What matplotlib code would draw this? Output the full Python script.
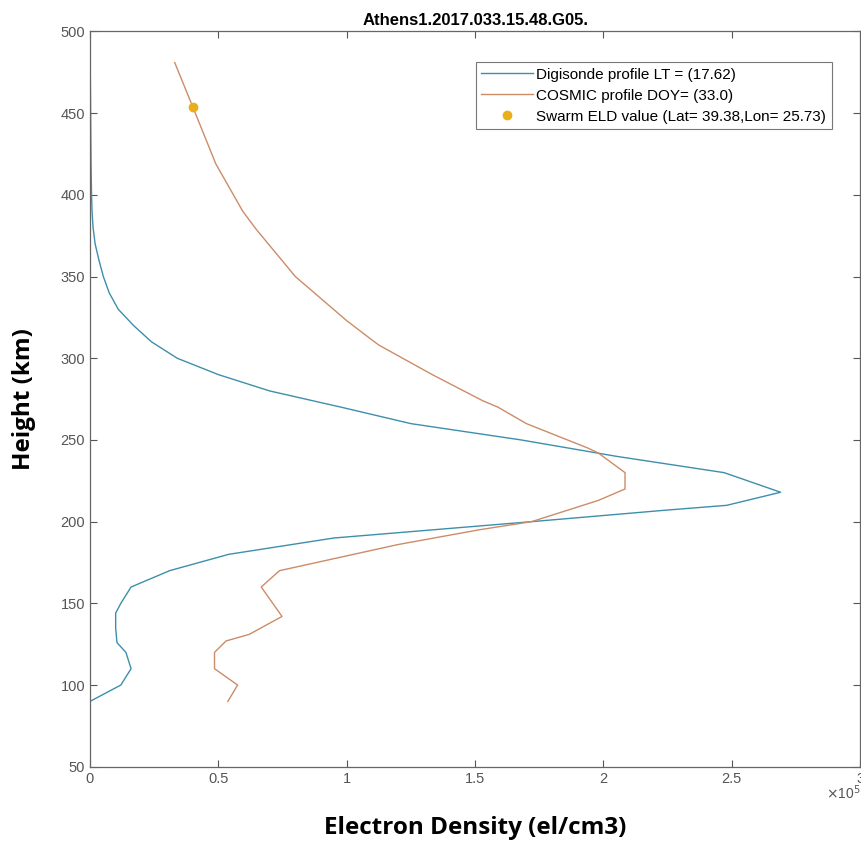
"""Digisonde vs COSMIC electron density profile, Athens 2017-033."""

import matplotlib
matplotlib.use("Agg")
import matplotlib.pyplot as plt
from matplotlib.ticker import FuncFormatter

# ---------------------------------------------------------------------------
# Data (density in units of 1e5 el/cm3)
# ---------------------------------------------------------------------------
digi_height = [90, 100, 110, 120, 126, 135, 144, 150, 160, 170, 180, 190, 200,
               207, 210, 218, 230, 240, 250, 260, 270, 280, 290, 300, 310,
               320, 330, 340, 350, 360, 370, 380, 390, 400, 420, 440, 460, 480]
digi_dens = [0.0, 0.12, 0.16, 0.14, 0.105, 0.10, 0.10, 0.12, 0.16, 0.31, 0.54,
             0.95, 1.72, 2.24, 2.48, 2.69, 2.47, 2.05, 1.68, 1.25, 0.98, 0.70,
             0.50, 0.34, 0.24, 0.17, 0.11, 0.075, 0.052, 0.035, 0.02, 0.012,
             0.008, 0.006, 0.004, 0.003, 0.002, 0.001]

cosmic_height = [90, 100, 110, 120, 127, 131, 142, 160, 170, 186, 195, 200, 213,
                 220, 230, 242, 245, 260, 270, 274, 290, 308, 311, 323, 350,
                 379, 390, 419, 454, 481]
cosmic_dens = [0.537, 0.575, 0.485, 0.485, 0.53, 0.62, 0.748, 0.667, 0.738,
               1.20, 1.515, 1.72, 1.98, 2.084, 2.084, 1.98, 1.94, 1.70, 1.59,
               1.53, 1.333, 1.126, 1.10, 1.0, 0.80, 0.647, 0.595, 0.49, 0.40,
               0.33]

swarm_height = [454]
swarm_dens = [0.40]

SCALE = 1e5

# ---------------------------------------------------------------------------
# Style
# ---------------------------------------------------------------------------
_BLUE = "#3d8fab"
_ORANGE = "#cc8c68"
_GOLD = "#E8AE1E"
_GRAY = "#555555"
_TICK_FONT = ["Liberation Sans", "DejaVu Sans"]
_LABEL_FONT = ["Open Sans", "DejaVu Sans"]


def main() -> None:
    fig = plt.figure(figsize=(8.62, 8.51), dpi=100)
    ax = fig.add_axes([0.1044, 0.099, 0.8935, 0.864])

    ax.plot([d * SCALE for d in digi_dens], digi_height, color=_BLUE, lw=1.0,
            label="Digisonde profile LT = (17.62)")
    ax.plot([d * SCALE for d in cosmic_dens], cosmic_height, color=_ORANGE, lw=1.0,
            label="COSMIC profile DOY= (33.0)")
    ax.plot([d * SCALE for d in swarm_dens], swarm_height, "o", color=_GOLD,
            ms=6, ls="none", label="Swarm ELD value (Lat= 39.38,Lon= 25.73)")

    ax.set_xlim(0, 3e5)
    ax.set_ylim(50, 500)
    ax.set_xticks([0, 0.5e5, 1e5, 1.5e5, 2e5, 2.5e5, 3e5])
    ax.set_yticks(range(50, 501, 50))
    ax.xaxis.set_major_formatter(FuncFormatter(lambda v, _: f"{v / SCALE:g}"))

    ax.tick_params(direction="in", top=True, right=True, length=5,
                   colors=_GRAY, labelsize=10.5, width=0.8)
    for lab in ax.get_xticklabels() + ax.get_yticklabels():
        lab.set_family(_TICK_FONT)
    for sp in ax.spines.values():
        sp.set_color("#666666")
        sp.set_linewidth(0.9)

    # MATLAB-style exponent under the right end of the x axis
    ax.text(1.0, -0.022, r"$\times$10$^5$", transform=ax.transAxes,
            ha="right", va="top", fontsize=10, color=_GRAY, family=_TICK_FONT)

    ax.set_title("Athens1.2017.033.15.48.G05.", fontsize=12, fontweight="bold",
                 family=_TICK_FONT, pad=5)
    ax.set_xlabel("Electron Density (el/cm3)", fontsize=17.5, fontweight="bold",
                  family=_LABEL_FONT, labelpad=22)
    ax.set_ylabel("Height (km)", fontsize=17.5, fontweight="bold",
                  family=_LABEL_FONT, labelpad=18)

    leg = ax.legend(loc="upper right", bbox_to_anchor=(0.967, 0.962),
                    prop={"family": _TICK_FONT, "size": 11},
                    frameon=True, fancybox=False, framealpha=1, handlelength=3.4,
                    borderpad=0.35, labelspacing=0.45, handletextpad=0.2,
                    borderaxespad=0.2)
    leg.get_frame().set_edgecolor("#777777")
    leg.get_frame().set_linewidth(0.8)

    fig.savefig("out.png", dpi=100)
    plt.close(fig)


if __name__ == "__main__":
    main()
